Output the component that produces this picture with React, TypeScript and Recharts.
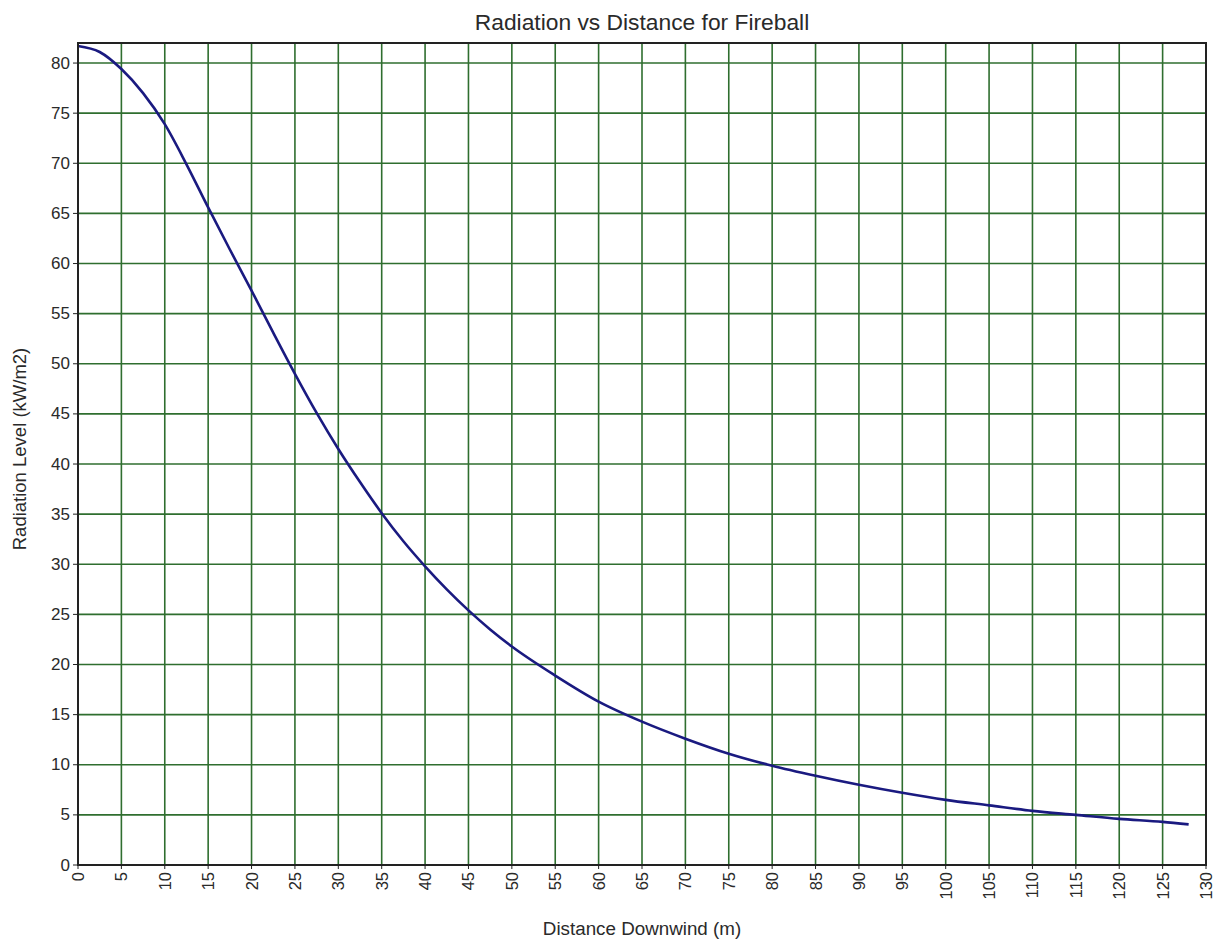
import React from "react";
import { LineChart, Line, XAxis, YAxis, CartesianGrid, ReferenceArea } from "recharts";

const distances = [0, 2.5, 5, 7.5, 10, 12.5, 15, 17.5, 20, 22.5, 25, 27.5, 30, 32.5, 35, 37.5, 40, 42.5, 45, 47.5, 50, 55, 60, 65, 70, 75, 80, 85, 90, 95, 100, 105, 110, 115, 120, 125, 128];
const radiation = [81.7, 81.1, 79.4, 77.0, 73.9, 69.9, 65.6, 61.4, 57.3, 53.1, 49.0, 45.1, 41.5, 38.2, 35.1, 32.3, 29.8, 27.5, 25.4, 23.5, 21.8, 18.9, 16.3, 14.3, 12.6, 11.1, 9.9, 8.9, 8.0, 7.2, 6.5, 5.95, 5.4, 5.0, 4.6, 4.3, 4.05];
const xTicks = [0, 5, 10, 15, 20, 25, 30, 35, 40, 45, 50, 55, 60, 65, 70, 75, 80, 85, 90, 95, 100, 105, 110, 115, 120, 125, 130];
const yTicks = [0, 5, 10, 15, 20, 25, 30, 35, 40, 45, 50, 55, 60, 65, 70, 75, 80];

const title = "Radiation vs Distance for Fireball";
const xTitle = "Distance Downwind (m)";
const yTitle = "Radiation Level (kW/m2)";

const data = distances.map((d, i) => ({ d, r: radiation[i] }));

const FONT = '"Liberation Sans", Arial, sans-serif';
const TEXT = "#2a2a2a";

const XTick = (props: any) => {
  const { x, y, payload } = props;
  return (
    <text
      x={x}
      y={y}
      transform={`rotate(-90 ${x} ${y})`}
      textAnchor="end"
      dominantBaseline="central"
      fontFamily={FONT}
      fontSize={16.5}
      fill={TEXT}
    >
      {payload.value}
    </text>
  );
};

const YTick = (props: any) => {
  const { x, y, payload } = props;
  return (
    <text x={x} y={y} textAnchor="end" dominantBaseline="central" fontFamily={FONT} fontSize={17} fill={TEXT}>
      {payload.value}
    </text>
  );
};

export default function App() {
  return (
    <div style={{ position: "absolute", left: 0, top: 0, width: 1221, height: 943, background: "#fff" }}>
      <div
        style={{
          position: "absolute",
          left: 392,
          width: 500,
          top: 9,
          lineHeight: "26px",
          textAlign: "center",
          fontFamily: FONT,
          fontSize: 22.8,
          color: TEXT,
        }}
      >
        {title}
      </div>
      <LineChart width={1221} height={943} data={data} margin={{ top: 43, right: 15, bottom: 38, left: 0 }}>
        <CartesianGrid stroke="#2f6e2f" strokeWidth={1.6} />
        <XAxis
          dataKey="d"
          type="number"
          domain={[0, 130]}
          ticks={xTicks}
          interval={0}
          height={40}
          tickSize={4}
          tickMargin={3}
          tick={<XTick />}
          axisLine={{ stroke: "#222", strokeWidth: 2 }}
          tickLine={{ stroke: "#222" }}
          label={{
            content: () => (
              <text
                x={642}
                y={928}
                textAnchor="middle"
                dominantBaseline="central"
                fontFamily={FONT}
                fontSize={18.8}
                fill={TEXT}
              >
                {xTitle}
              </text>
            ),
          }}
        />
        <YAxis
          type="number"
          domain={[0, 82]}
          ticks={yTicks}
          interval={0}
          width={78}
          tickSize={5}
          tickMargin={3}
          tick={<YTick />}
          axisLine={{ stroke: "#222", strokeWidth: 2 }}
          tickLine={{ stroke: "#222" }}
          label={{
            content: () => (
              <text
                x={19}
                y={449}
                transform={`rotate(-90 19 449)`}
                textAnchor="middle"
                dominantBaseline="central"
                fontFamily={FONT}
                fontSize={18.5}
                fill={TEXT}
              >
                {yTitle}
              </text>
            ),
          }}
        />
        <ReferenceArea x1={0} x2={130} y1={0} y2={82} fill="none" stroke="#222" strokeWidth={2} ifOverflow="visible" />
        <Line
          type="monotone"
          dataKey="r"
          stroke="#1a1a80"
          strokeWidth={2.6}
          dot={false}
          isAnimationActive={false}
        />
      </LineChart>
    </div>
  );
}
